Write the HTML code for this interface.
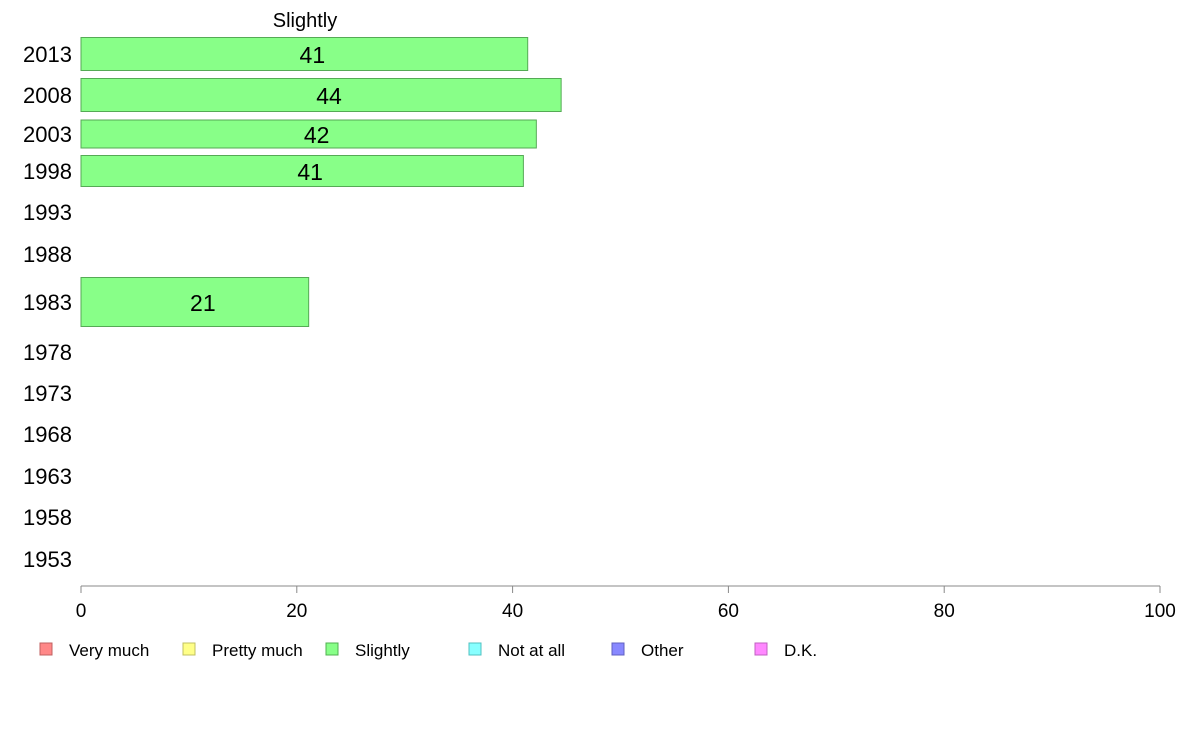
<!DOCTYPE html>
<html><head><meta charset="utf-8"><style>
body{margin:0;background:#fff;font-family:"Liberation Sans",Arial,sans-serif}
svg{display:block}
</style></head><body>
<svg id="chart" width="1188" height="736" viewBox="0 0 1188 736">
<text x="305" y="27" font-size="20" text-anchor="middle" fill="#000">Slightly</text>
<g id="rows"></g>
<g id="axis"></g>
<g id="legend"></g>
</svg>
<script>
const categories = ["2013","2008","2003","1998","1993","1988","1983","1978","1973","1968","1963","1958","1953"];
const values = [41.4, 44.5, 42.2, 41, null, null, 21.1, null, null, null, null, null, null];
const valueLabels = ["41","44","42","41","","","21","","","","","",""];
const xTicks = [0,20,40,60,80,100];
const legendLabels = ["Very much","Pretty much","Slightly","Not at all","Other","D.K."];
const legendColors = ["#ff8888","#ffff88","#88ff88","#88ffff","#8888ff","#ff88ff"];
const legendStroke = ["#c06060","#c0c060","#50b050","#50c0c0","#6060c0","#c060c0"];
// layout (not data): row centers and bar heights as seen in picture
const rowCenter = [54,95,134,171,212,254,302,352,393,434,476,517,559];
const rowHeight = [33,33,28,31,30,30,49,30,30,30,30,30,30];

const NS="http://www.w3.org/2000/svg";
const x0=81,x1=1160, axisY=586;
const xs=v=>x0+(v/100)*(x1-x0);
function mk(t,a,p){const e=document.createElementNS(NS,t);for(const k in a)e.setAttribute(k,a[k]);p.appendChild(e);return e;}
const rows=document.getElementById('rows');
categories.forEach((c,i)=>{
  const t=mk('text',{x:72,y:rowCenter[i]+8,'font-size':22,'text-anchor':'end',fill:'#000'},rows);
  t.textContent=c;
  
  
  if(values[i]!=null){
    const h=rowHeight[i];
    const r=mk('rect',{x:x0,y:rowCenter[i]-h/2,width:xs(values[i])-x0,height:h,fill:'#88ff88',stroke:'#55aa55','stroke-width':1},rows);
    
    
    const l=mk('text',{x:(x0+xs(values[i]))/2+8,y:rowCenter[i]+9,'font-size':23,'text-anchor':'middle',fill:'#000'},rows);
    l.textContent=valueLabels[i];
    
    
  }
});
const ax=document.getElementById('axis');
mk('line',{x1:x0,x2:x1,y1:axisY,y2:axisY,stroke:'#888','stroke-width':1},ax);
xTicks.forEach(v=>{
  mk('line',{x1:xs(v),x2:xs(v),y1:axisY,y2:axisY+7,stroke:'#888','stroke-width':1},ax);
  const t=mk('text',{x:xs(v),y:617,'font-size':19,'text-anchor':'middle',fill:'#000'},ax);
  t.textContent=v;
  
  
});
const lg=document.getElementById('legend');
legendLabels.forEach((n,i)=>{
  const lx=40+i*143;
  const g=mk('g',{},lg);
  
  
  mk('rect',{x:lx,y:643,width:12,height:12,fill:legendColors[i],stroke:legendStroke[i],'stroke-width':1},g);
  const t=mk('text',{x:lx+29,y:656,'font-size':17,fill:'#000'},g);
  t.textContent=n;
});
</script>
</body></html>
